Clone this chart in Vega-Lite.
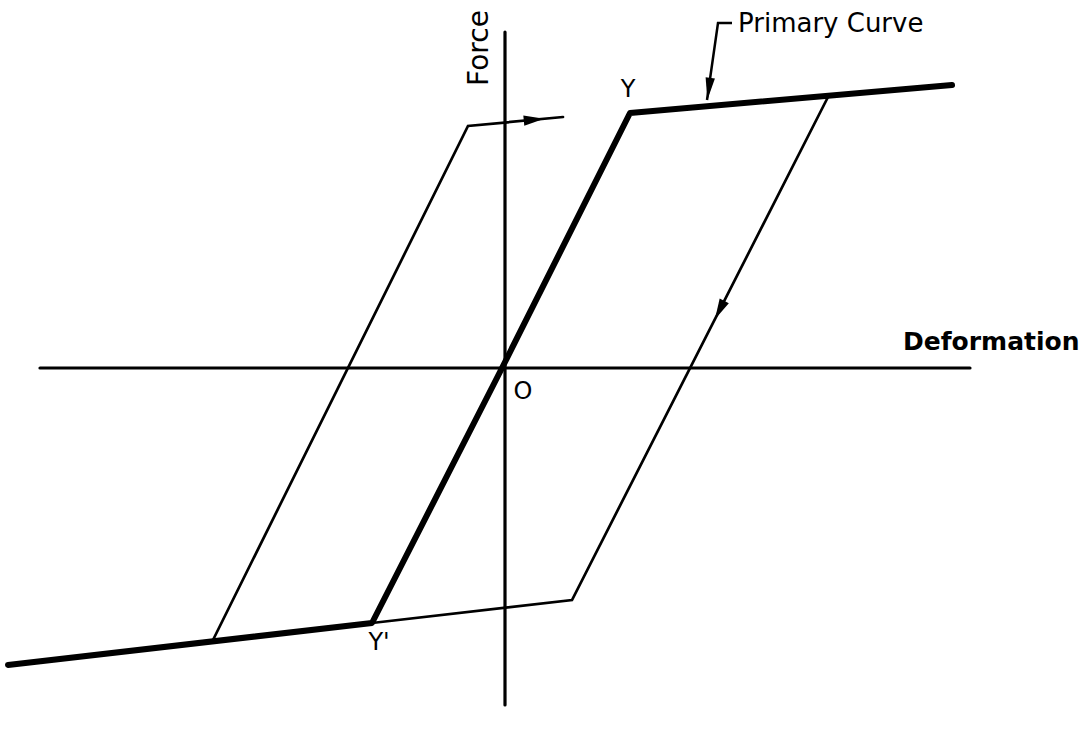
{
  "$schema": "https://vega.github.io/schema/vega-lite/v6.json",
  "width": 1088,
  "height": 734,
  "autosize": {"type": "fit", "contains": "padding"},
  "padding": 0,
  "background": "white",
  "config": {"view": {"stroke": null}},
  "datasets": {
    "lines": [
      {"series": "axis", "seg": "h", "order": 1, "x": -46.5, "y": 0},
      {"series": "axis", "seg": "h", "order": 2, "x": 46.5, "y": 0},
      {"series": "axis", "seg": "v", "order": 1, "x": 0, "y": 33.6},
      {"series": "axis", "seg": "v", "order": 2, "x": 0, "y": -33.7},
      {"series": "primary", "seg": "p", "order": 1, "x": -49.7, "y": -29.7},
      {"series": "primary", "seg": "p", "order": 2, "x": -13.3, "y": -25.5},
      {"series": "primary", "seg": "p", "order": 3, "x": -0.3, "y": 0},
      {"series": "primary", "seg": "p", "order": 4, "x": 12.5, "y": 25.5},
      {"series": "primary", "seg": "p", "order": 5, "x": 44.7, "y": 28.3},
      {"series": "loop", "seg": "up", "order": 1, "x": -29.2, "y": -27.2},
      {"series": "loop", "seg": "up", "order": 2, "x": -3.7, "y": 24.2},
      {"series": "loop", "seg": "up", "order": 3, "x": 5.8, "y": 25.1},
      {"series": "loop", "seg": "down", "order": 1, "x": 32.3, "y": 27.1},
      {"series": "loop", "seg": "down", "order": 2, "x": 6.7, "y": -23.2},
      {"series": "loop", "seg": "down", "order": 3, "x": -13.3, "y": -25.5},
      {"series": "leader", "seg": "l", "order": 1, "x": 22.7, "y": 34.5},
      {"series": "leader", "seg": "l", "order": 2, "x": 21.3, "y": 34.5},
      {"series": "leader", "seg": "l", "order": 3, "x": 20.2, "y": 26.8}
    ],
    "arrows": [
      {"arrow": "top", "x": 2.9, "y": 24.83},
      {"arrow": "down", "x": 21.46, "y": 5.8},
      {"arrow": "leader", "x": 20.38, "y": 27.9}
    ],
    "labels": [
      {"label": "Force", "x": -2.5, "y": 32.0},
      {"label": "Deformation", "x": 39.8, "y": 2.6},
      {"label": "Primary Curve", "x": 23.3, "y": 34.4},
      {"label": "Y", "x": 12.3, "y": 27.8},
      {"label": "Y'", "x": -12.6, "y": -27.5},
      {"label": "O", "x": 1.8, "y": -2.4}
    ]
  },
  "encoding": {
    "x": {"field": "x", "type": "quantitative", "scale": {"domain": [-50.5, 58.3], "nice": false, "zero": false}, "axis": null},
    "y": {"field": "y", "type": "quantitative", "scale": {"domain": [-36.6, 36.8], "nice": false, "zero": false}, "axis": null}
  },
  "layer": [
    {
      "data": {"name": "lines"},
      "transform": [{"filter": "datum.series === 'axis'"}],
      "mark": {"type": "line", "color": "black", "strokeWidth": 3.2, "strokeCap": "round"},
      "encoding": {"detail": {"field": "seg"}, "order": {"field": "order", "type": "quantitative"}}
    },
    {
      "data": {"name": "lines"},
      "transform": [{"filter": "datum.series === 'loop'"}],
      "mark": {"type": "line", "color": "black", "strokeWidth": 2.7, "strokeCap": "round", "strokeJoin": "miter"},
      "encoding": {"detail": {"field": "seg"}, "order": {"field": "order", "type": "quantitative"}}
    },
    {
      "data": {"name": "lines"},
      "transform": [{"filter": "datum.series === 'leader'"}],
      "mark": {"type": "line", "color": "black", "strokeWidth": 2.5, "strokeCap": "butt", "strokeJoin": "miter"},
      "encoding": {"detail": {"field": "seg"}, "order": {"field": "order", "type": "quantitative"}}
    },
    {
      "data": {"name": "lines"},
      "transform": [{"filter": "datum.series === 'primary'"}],
      "mark": {"type": "line", "color": "black", "strokeWidth": 6, "strokeCap": "round", "strokeJoin": "round"},
      "encoding": {"detail": {"field": "seg"}, "order": {"field": "order", "type": "quantitative"}}
    },
    {
      "data": {"name": "arrows"},
      "transform": [{"filter": "datum.arrow === 'top'"}],
      "mark": {"type": "point", "shape": "M1,0L-1,-0.5L-1,0.5Z", "filled": true, "color": "black", "opacity": 1, "size": 420, "angle": -5.4}
    },
    {
      "data": {"name": "arrows"},
      "transform": [{"filter": "datum.arrow === 'down'"}],
      "mark": {"type": "point", "shape": "M1,0L-1,-0.5L-1,0.5Z", "filled": true, "color": "black", "opacity": 1, "size": 420, "angle": 117}
    },
    {
      "data": {"name": "arrows"},
      "transform": [{"filter": "datum.arrow === 'leader'"}],
      "mark": {"type": "point", "shape": "M1,0L-1,-0.42L-1,0.42Z", "filled": true, "color": "black", "opacity": 1, "size": 500, "angle": 97.5}
    },
    {
      "data": {"name": "labels"},
      "transform": [{"filter": "datum.label === 'Force'"}],
      "mark": {"type": "text", "angle": 270, "align": "center", "baseline": "middle", "font": "DejaVu Sans", "fontSize": 28, "color": "black"},
      "encoding": {"text": {"field": "label"}}
    },
    {
      "data": {"name": "labels"},
      "transform": [{"filter": "datum.label === 'Deformation'"}],
      "mark": {"type": "text", "align": "left", "baseline": "middle", "font": "DejaVu Sans", "fontWeight": "bold", "fontSize": 25, "color": "black"},
      "encoding": {"text": {"field": "label"}}
    },
    {
      "data": {"name": "labels"},
      "transform": [{"filter": "datum.label === 'Primary Curve'"}],
      "mark": {"type": "text", "align": "left", "baseline": "middle", "font": "DejaVu Sans", "fontSize": 26, "color": "black"},
      "encoding": {"text": {"field": "label"}}
    },
    {
      "data": {"name": "labels"},
      "transform": [{"filter": "datum.label === 'Y' || datum.label === \"Y'\" || datum.label === 'O'"}],
      "mark": {"type": "text", "align": "center", "baseline": "middle", "font": "DejaVu Sans", "fontSize": 24, "color": "black"},
      "encoding": {"text": {"field": "label"}}
    }
  ]
}
